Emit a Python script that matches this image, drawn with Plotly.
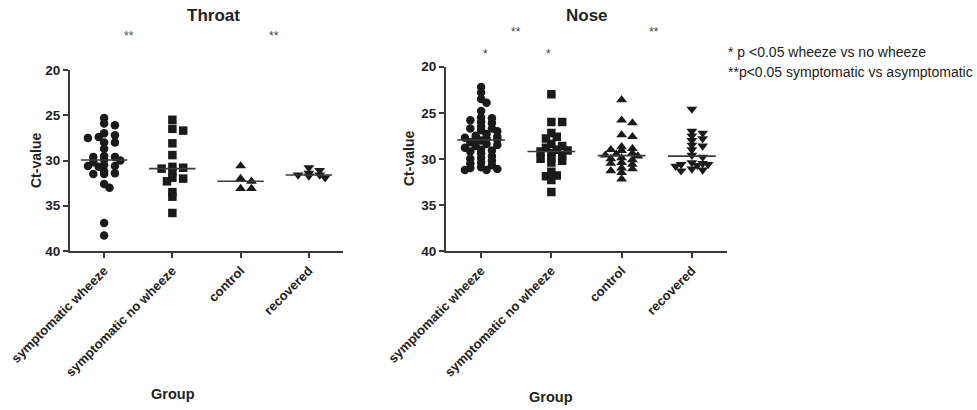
import numpy as np
import plotly.graph_objects as go

# ---------------- data ----------------
groups = ["symptomatic wheeze", "symptomatic no wheeze", "control", "recovered"]

throat_wheeze = [25.3, 25.9, 26.1, 27.0, 27.2, 27.4, 27.5, 28.0, 28.0, 28.7, 29.5, 29.6, 29.6, 29.9,
                 30.0, 30.2, 30.5, 30.6, 30.6, 30.7, 31.2, 31.4, 31.5, 31.5, 32.6, 33.0, 36.9, 38.3]
throat_nowheeze = [25.5, 26.5, 26.7, 28.1, 29.4, 30.7, 30.8, 30.9, 31.2, 31.9, 32.0, 32.3, 33.5, 34.0, 35.8]
throat_control = [30.6, 32.0, 32.3, 33.1, 33.1]
throat_recovered = [30.8, 31.1, 31.4, 31.6, 31.6, 31.7, 31.9]

nose_wheeze = [22.2, 22.8, 23.5, 23.9, 24.8, 25.5, 25.6, 25.8, 26.0, 26.1, 26.5, 26.7, 26.7, 26.9,
               27.0, 27.3, 27.5, 27.6, 27.7, 27.8, 27.8, 27.9, 28.0, 28.2, 28.4, 28.5, 28.6, 28.8,
               29.0, 29.1, 29.2, 29.4, 29.7, 29.9, 30.0, 30.2, 30.4, 30.5, 30.7, 30.9, 31.0, 31.1,
               31.2, 31.2]
nose_nowheeze = [23.0, 26.0, 26.0, 27.2, 27.6, 27.8, 28.4, 28.6, 28.8, 29.0, 29.1, 29.2, 29.4, 29.6,
                 29.9, 30.0, 30.2, 30.4, 31.4, 31.8, 31.9, 32.3, 33.6]
nose_control = [23.6, 25.8, 26.1, 27.4, 27.6, 28.7, 28.9, 29.0, 29.1, 29.4, 29.5, 29.6, 29.7, 29.9,
                30.0, 30.1, 30.4, 30.5, 30.6, 31.0, 31.1, 31.3, 31.5, 32.2]
nose_recovered = [24.6, 27.0, 27.2, 27.5, 27.8, 28.0, 28.5, 28.6, 29.0, 29.6, 29.8, 30.4, 30.5, 30.6,
                  30.6, 30.7, 30.8, 31.1, 31.2, 31.3]

throat_data = [throat_wheeze, throat_nowheeze, throat_control, throat_recovered]
nose_data = [nose_wheeze, nose_nowheeze, nose_control, nose_recovered]
symbols = ["circle", "square", "triangle-up", "triangle-down"]
y_ticks = [20, 25, 30, 35, 40]

# ---------------- layout geometry (px) ----------------
W, H = 977, 410
panels = {
    "throat": dict(x0=70, x1=343, ytop=70, ybot=251),
    "nose": dict(x0=446, x1=727, ytop=66.7, ybot=251),
}


def swarm(vals, px_per_cat, px_per_unit, step=5.4, dx=9.6, dy=4.0, kmax=3):
    """Compact greedy beeswarm in pixel space; returns x-offsets in category units."""
    vals = np.asarray(vals, dtype=float)
    order = np.argsort(vals)
    placed = []
    offs = np.zeros(len(vals))
    cands = [0.0]
    for k in range(1, kmax + 1):
        cands += [k * step, -k * step]
    for i in order:
        y = vals[i] * px_per_unit
        best, best_d = cands[0], -1.0
        for c in cands:
            d = min([((c - px) / dx) ** 2 + ((y - py) / dy) ** 2 for px, py in placed] or [9.0])
            if d >= 1:
                best = c
                break
            if d > best_d:
                best, best_d = c, d
        placed.append((best, y))
        offs[i] = best / px_per_cat
    return offs


fig = go.Figure()
dark = "#1a1a1a"
axcol = "#3a3a3a"
font_fam = "Liberation Sans, Arial, sans-serif"

for pi, (name, data) in enumerate([("throat", throat_data), ("nose", nose_data)]):
    g = panels[name]
    ppc = (g["x1"] - g["x0"]) / 4.0
    ppu = (g["ybot"] - g["ytop"]) / 20.0
    xa = "x" if pi == 0 else "x2"
    ya = "y" if pi == 0 else "y2"
    for gi, vals in enumerate(data):
        vals = np.array(vals, dtype=float)
        offs = swarm(vals, ppc, ppu)
        sz = 8.5 if symbols[gi] in ("circle", "square") else 9.5
        fig.add_trace(go.Scatter(
            x=gi + offs, y=vals, mode="markers", xaxis=xa, yaxis=ya,
            marker=dict(symbol=symbols[gi], size=sz, color=dark, line=dict(width=0)),
            showlegend=False, hoverinfo="y"))
        med = float(np.median(vals))
        fig.add_trace(go.Scatter(
            x=[gi - 0.34, gi + 0.34], y=[med, med], mode="lines", xaxis=xa, yaxis=ya,
            line=dict(color=axcol, width=1.6), showlegend=False, hoverinfo="skip"))

tickfont = dict(family=font_fam, size=13.5, color="#222", weight="bold")
xtickfont = dict(family=font_fam, size=13, color="#222", weight="bold")


def xaxis(dom, anchor):
    return dict(domain=dom, range=[-0.5, 3.5], tickmode="array", tickvals=[0, 1, 2, 3],
                ticktext=groups, tickangle=-45, showline=True, linecolor=axcol, linewidth=2,
                ticks="outside", ticklen=5, tickwidth=1.5, tickcolor=axcol, showgrid=False,
                zeroline=False, tickfont=xtickfont, fixedrange=True, automargin=False,
                anchor=anchor)


def yaxis(dom, anchor):
    return dict(domain=dom, range=[40, 20], tickmode="array", tickvals=y_ticks,
                showline=True, linecolor=axcol, linewidth=2, ticks="outside", ticklen=5,
                tickwidth=1.5, tickcolor=axcol, showgrid=False, zeroline=False,
                tickfont=tickfont, anchor=anchor, fixedrange=True, automargin=False)


t, n = panels["throat"], panels["nose"]
fig.update_layout(
    width=W, height=H, margin=dict(l=0, r=0, t=0, b=0, autoexpand=False),
    paper_bgcolor="white", plot_bgcolor="white",
    xaxis=xaxis([t["x0"] / W, t["x1"] / W], "y"),
    yaxis=yaxis([1 - t["ybot"] / H, 1 - t["ytop"] / H], "x"),
    xaxis2=xaxis([n["x0"] / W, n["x1"] / W], "y2"),
    yaxis2=yaxis([1 - n["ybot"] / H, 1 - n["ytop"] / H], "x2"),
)


def ann(text, x, y, size, bold=False, angle=0, xanchor="center", color="#222"):
    fig.add_annotation(text=text, x=x / W, y=1 - y / H, xref="paper", yref="paper",
                       showarrow=False, textangle=angle, xanchor=xanchor, yanchor="middle",
                       align="left", borderpad=0,
                       font=dict(family=font_fam, size=size, color=color,
                                 weight="bold" if bold else "normal"))


ann("Throat", 213, 15, 17, True)
ann("Nose", 587, 15, 17, True)
ann("Ct-value", 36, 161, 14, True, -90)
ann("Ct-value", 409, 159, 14, True, -90)
ann("Group", 173, 394, 14.5, True)
ann("Group", 551, 397, 14.5, True)
ann("**", 129, 36, 12, color="#444")
ann("**", 274, 36, 12, color="#444")
ann("**", 516, 32, 12, color="#444")
ann("**", 654, 32, 12, color="#444")
ann("*", 485, 54, 12, color="#444")
ann("*", 548, 54, 12, color="#444")
ann("* p <0.05 wheeze vs no wheeze", 727, 52, 14, xanchor="left")
ann("**p<0.05 symptomatic vs asymptomatic", 727, 72, 14, xanchor="left")

fig.write_html("out.html")
